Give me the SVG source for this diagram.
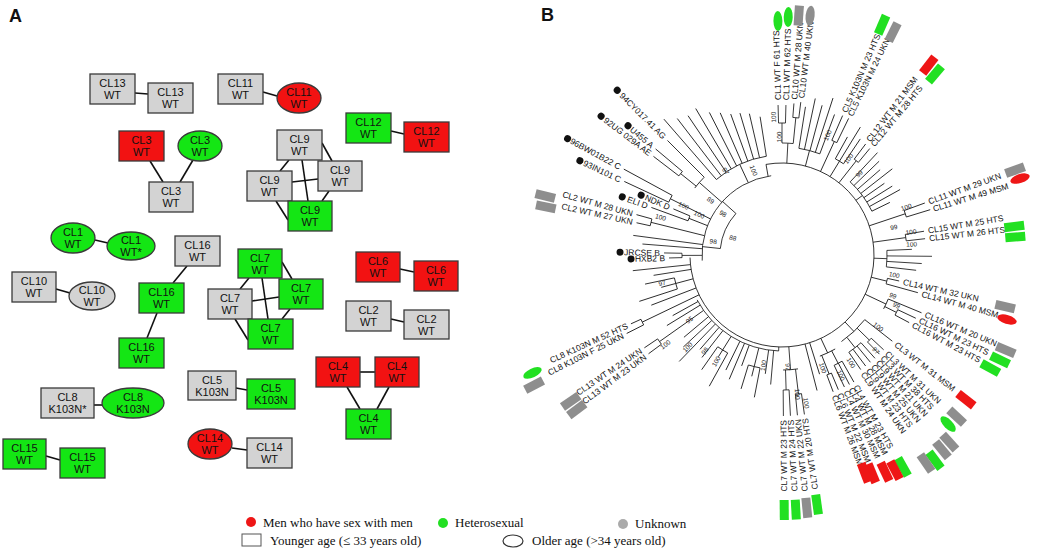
<svg xmlns="http://www.w3.org/2000/svg" width="1050" height="550" viewBox="0 0 1050 550">
<style>
.nd{stroke:#3a3a3a;stroke-width:1.3}
.gy{fill:#d3d3d3}.gn{fill:#14e614}.rd{fill:#f21212}
.nt{font-family:"Liberation Sans",Arial,sans-serif;font-size:11px;text-anchor:middle;fill:#111}
.e{stroke:#111;stroke-width:1.6;fill:none}
.t{stroke:#111;stroke-width:0.8;fill:none}
.tl{font-family:"Liberation Sans",Arial,sans-serif;font-size:8.5px;fill:#111}
.bs{font-family:"Liberation Sans",Arial,sans-serif;font-size:6.5px;fill:#222;text-anchor:middle}
.mg{fill:#8e8e8e}.mgn{fill:#22e022}.mr{fill:#ee1616}
.lg{font-family:"Liberation Serif","Times New Roman",serif;font-size:13px;fill:#111}
.pl{font-family:"Liberation Sans",Arial,sans-serif;font-size:18px;font-weight:bold;fill:#111}
</style>
<rect width="1050" height="550" fill="#fff"/>
<text class="pl" x="9" y="22">A</text>
<text class="pl" x="541" y="21">B</text>

<g id="connectors-A">
<line class="e" x1="135" y1="93" x2="148" y2="94"/>
<line class="e" x1="263" y1="92" x2="277" y2="96"/>
<line class="e" x1="150" y1="161" x2="163" y2="182"/>
<line class="e" x1="193" y1="160" x2="180" y2="182"/>
<line class="e" x1="391" y1="131" x2="404" y2="134"/>
<line class="e" x1="322" y1="143" x2="332" y2="161"/>
<line class="e" x1="289" y1="160" x2="280" y2="171"/>
<line class="e" x1="302" y1="160" x2="308" y2="201"/>
<line class="e" x1="292" y1="182" x2="318" y2="179"/>
<line class="e" x1="276" y1="201" x2="288" y2="220"/>
<line class="e" x1="329" y1="191" x2="322" y2="201"/>
<line class="e" x1="95" y1="240" x2="108" y2="243"/>
<line class="e" x1="187" y1="266" x2="173" y2="283"/>
<line class="e" x1="157" y1="313" x2="147" y2="338"/>
<line class="e" x1="56" y1="289" x2="70" y2="293"/>
<line class="e" x1="249" y1="278" x2="240" y2="289"/>
<line class="e" x1="282" y1="262" x2="292" y2="279"/>
<line class="e" x1="262" y1="278" x2="268" y2="319"/>
<line class="e" x1="252" y1="301" x2="279" y2="297"/>
<line class="e" x1="235" y1="319" x2="248" y2="340"/>
<line class="e" x1="290" y1="309" x2="282" y2="319"/>
<line class="e" x1="400" y1="269" x2="414" y2="272"/>
<line class="e" x1="391" y1="319" x2="404" y2="322"/>
<line class="e" x1="360" y1="372" x2="375" y2="372"/>
<line class="e" x1="347" y1="387" x2="360" y2="409"/>
<line class="e" x1="389" y1="387" x2="377" y2="409"/>
<line class="e" x1="236" y1="388" x2="247" y2="390"/>
<line class="e" x1="94" y1="405" x2="102" y2="405"/>
<line class="e" x1="46" y1="456" x2="60" y2="460"/>
<line class="e" x1="232" y1="448" x2="247" y2="450"/>
</g>

<g id="n13a"><rect class="nd gy" x="90" y="74" width="45" height="30"/><text class="nt" x="112.5" y="87"><tspan x="112.5">CL13</tspan><tspan x="112.5" dy="12">WT</tspan></text></g>
<g id="n13b"><rect class="nd gy" x="148" y="83" width="45" height="30"/><text class="nt" x="170.5" y="96"><tspan x="170.5">CL13</tspan><tspan x="170.5" dy="12">WT</tspan></text></g>
<g id="n11a"><rect class="nd gy" x="218" y="74" width="45" height="30"/><text class="nt" x="240.5" y="87"><tspan x="240.5">CL11</tspan><tspan x="240.5" dy="12">WT</tspan></text></g>
<g id="n11b"><ellipse class="nd rd" cx="299" cy="98" rx="22" ry="15"/><text class="nt" x="299" y="96"><tspan x="299">CL11</tspan><tspan x="299" dy="12">WT</tspan></text></g>
<g id="n3a"><rect class="nd rd" x="119" y="131" width="45" height="30"/><text class="nt" x="141.5" y="144"><tspan x="141.5">CL3</tspan><tspan x="141.5" dy="12">WT</tspan></text></g>
<g id="n3b"><ellipse class="nd gn" cx="200" cy="146" rx="22" ry="15"/><text class="nt" x="200" y="144"><tspan x="200">CL3</tspan><tspan x="200" dy="12">WT</tspan></text></g>
<g id="n3c"><rect class="nd gy" x="149" y="182" width="44" height="30"/><text class="nt" x="171" y="195"><tspan x="171">CL3</tspan><tspan x="171" dy="12">WT</tspan></text></g>
<g id="n12a"><rect class="nd gn" x="346" y="113" width="45" height="30"/><text class="nt" x="368.5" y="126"><tspan x="368.5">CL12</tspan><tspan x="368.5" dy="12">WT</tspan></text></g>
<g id="n12b"><rect class="nd rd" x="404" y="122" width="45" height="30"/><text class="nt" x="426.5" y="135"><tspan x="426.5">CL12</tspan><tspan x="426.5" dy="12">WT</tspan></text></g>
<g id="n9a"><rect class="nd gy" x="277" y="130" width="45" height="30"/><text class="nt" x="299.5" y="143"><tspan x="299.5">CL9</tspan><tspan x="299.5" dy="12">WT</tspan></text></g>
<g id="n9b"><rect class="nd gy" x="318" y="161" width="44" height="30"/><text class="nt" x="340" y="174"><tspan x="340">CL9</tspan><tspan x="340" dy="12">WT</tspan></text></g>
<g id="n9c"><rect class="nd gy" x="247" y="171" width="45" height="30"/><text class="nt" x="269.5" y="184"><tspan x="269.5">CL9</tspan><tspan x="269.5" dy="12">WT</tspan></text></g>
<g id="n9d"><rect class="nd gn" x="288" y="201" width="44" height="30"/><text class="nt" x="310" y="214"><tspan x="310">CL9</tspan><tspan x="310" dy="12">WT</tspan></text></g>
<g id="n1a"><ellipse class="nd gn" cx="73" cy="238" rx="22" ry="15"/><text class="nt" x="73" y="236"><tspan x="73">CL1</tspan><tspan x="73" dy="12">WT</tspan></text></g>
<g id="n1b"><ellipse class="nd gn" cx="131" cy="246" rx="24" ry="14"/><text class="nt" x="131" y="244"><tspan x="131">CL1</tspan><tspan x="131" dy="12">WT*</tspan></text></g>
<g id="n16a"><rect class="nd gy" x="175" y="236" width="45" height="30"/><text class="nt" x="197.5" y="249"><tspan x="197.5">CL16</tspan><tspan x="197.5" dy="12">WT</tspan></text></g>
<g id="n16b"><rect class="nd gn" x="139" y="283" width="45" height="30"/><text class="nt" x="161.5" y="296"><tspan x="161.5">CL16</tspan><tspan x="161.5" dy="12">WT</tspan></text></g>
<g id="n16c"><rect class="nd gn" x="119" y="338" width="45" height="30"/><text class="nt" x="141.5" y="351"><tspan x="141.5">CL16</tspan><tspan x="141.5" dy="12">WT</tspan></text></g>
<g id="n10a"><rect class="nd gy" x="12" y="272" width="44" height="30"/><text class="nt" x="34" y="285"><tspan x="34">CL10</tspan><tspan x="34" dy="12">WT</tspan></text></g>
<g id="n10b"><ellipse class="nd gy" cx="92" cy="296" rx="23" ry="14"/><text class="nt" x="92" y="294"><tspan x="92">CL10</tspan><tspan x="92" dy="12">WT</tspan></text></g>
<g id="n7a"><rect class="nd gn" x="238" y="249" width="44" height="29"/><text class="nt" x="260" y="262"><tspan x="260">CL7</tspan><tspan x="260" dy="12">WT</tspan></text></g>
<g id="n7b"><rect class="nd gn" x="279" y="279" width="44" height="30"/><text class="nt" x="301" y="292"><tspan x="301">CL7</tspan><tspan x="301" dy="12">WT</tspan></text></g>
<g id="n7c"><rect class="nd gy" x="208" y="289" width="44" height="30"/><text class="nt" x="230" y="302"><tspan x="230">CL7</tspan><tspan x="230" dy="12">WT</tspan></text></g>
<g id="n7d"><rect class="nd gn" x="248" y="319" width="45" height="30"/><text class="nt" x="270.5" y="332"><tspan x="270.5">CL7</tspan><tspan x="270.5" dy="12">WT</tspan></text></g>
<g id="n6a"><rect class="nd rd" x="356" y="252" width="44" height="30"/><text class="nt" x="378" y="265"><tspan x="378">CL6</tspan><tspan x="378" dy="12">WT</tspan></text></g>
<g id="n6b"><rect class="nd rd" x="414" y="261" width="44" height="30"/><text class="nt" x="436" y="274"><tspan x="436">CL6</tspan><tspan x="436" dy="12">WT</tspan></text></g>
<g id="n2a"><rect class="nd gy" x="346" y="301" width="45" height="30"/><text class="nt" x="368.5" y="314"><tspan x="368.5">CL2</tspan><tspan x="368.5" dy="12">WT</tspan></text></g>
<g id="n2b"><rect class="nd gy" x="404" y="310" width="45" height="29"/><text class="nt" x="426.5" y="323"><tspan x="426.5">CL2</tspan><tspan x="426.5" dy="12">WT</tspan></text></g>
<g id="n4a"><rect class="nd rd" x="316" y="357" width="44" height="30"/><text class="nt" x="338" y="370"><tspan x="338">CL4</tspan><tspan x="338" dy="12">WT</tspan></text></g>
<g id="n4b"><rect class="nd rd" x="375" y="357" width="44" height="30"/><text class="nt" x="397" y="370"><tspan x="397">CL4</tspan><tspan x="397" dy="12">WT</tspan></text></g>
<g id="n4c"><rect class="nd gn" x="346" y="409" width="45" height="30"/><text class="nt" x="368.5" y="422"><tspan x="368.5">CL4</tspan><tspan x="368.5" dy="12">WT</tspan></text></g>
<g id="n5a"><rect class="nd gy" x="188" y="371" width="48" height="29"/><text class="nt" x="212" y="384"><tspan x="212">CL5</tspan><tspan x="212" dy="12">K103N</tspan></text></g>
<g id="n5b"><rect class="nd gn" x="247" y="379" width="48" height="30"/><text class="nt" x="271" y="392"><tspan x="271">CL5</tspan><tspan x="271" dy="12">K103N</tspan></text></g>
<g id="n8a"><rect class="nd gy" x="41" y="388" width="53" height="30"/><text class="nt" x="67.5" y="401"><tspan x="67.5">CL8</tspan><tspan x="67.5" dy="12">K103N*</tspan></text></g>
<g id="n8b"><ellipse class="nd gn" cx="133" cy="403" rx="31" ry="15"/><text class="nt" x="133" y="401"><tspan x="133">CL8</tspan><tspan x="133" dy="12">K103N</tspan></text></g>
<g id="n15a"><rect class="nd gn" x="3" y="439" width="43" height="30"/><text class="nt" x="24.5" y="452"><tspan x="24.5">CL15</tspan><tspan x="24.5" dy="12">WT</tspan></text></g>
<g id="n15b"><rect class="nd gn" x="60" y="448" width="45" height="30"/><text class="nt" x="82.5" y="461"><tspan x="82.5">CL15</tspan><tspan x="82.5" dy="12">WT</tspan></text></g>
<g id="n14a"><ellipse class="nd rd" cx="210" cy="444" rx="22" ry="15"/><text class="nt" x="210" y="442"><tspan x="210">CL14</tspan><tspan x="210" dy="12">WT</tspan></text></g>
<g id="n14b"><rect class="nd gy" x="247" y="438" width="45" height="30"/><text class="nt" x="269.5" y="451"><tspan x="269.5">CL14</tspan><tspan x="269.5" dy="12">WT</tspan></text></g>

<g id="tree-branches" class="t" transform="translate(782,255)">
<circle r="92" transform="rotate(-100)" stroke-dasharray="446.4 2000"/>
<circle r="80" transform="rotate(176)" stroke-dasharray="120.1 2000"/>
<circle r="96" transform="rotate(92)" stroke-dasharray="100.5 2000"/>
<circle r="62" transform="rotate(186)" stroke-dasharray="38.96 2000"/>
<line x1="80" x2="92" transform="rotate(260)"/>
<line x1="62" x2="80" transform="rotate(186)"/>
<line x1="62" x2="80" transform="rotate(222)"/>
<line x1="92" x2="96" transform="rotate(92)"/>
<line x1="92" x2="112" transform="rotate(-87)"/>
<circle r="112" transform="rotate(-90)" stroke-dasharray="11.24 2000"/>
<line x1="112" x2="132" transform="rotate(-90)"/>
<circle r="132" transform="rotate(-91.5)" stroke-dasharray="6.91 2000"/>
<line x1="132" x2="150" transform="rotate(-91.5)"/>
<line x1="132" x2="150" transform="rotate(-88.5)"/>
<line x1="112" x2="138" transform="rotate(-84.25)"/>
<circle r="138" transform="rotate(-85.5)" stroke-dasharray="6.02 2000"/>
<line x1="138" x2="152" transform="rotate(-85.5)"/>
<line x1="138" x2="154" transform="rotate(-83)"/>
<line x1="92" x2="108" transform="rotate(-75.25)"/>
<circle r="108" transform="rotate(-81)" stroke-dasharray="21.68 2000"/>
<line x1="108" x2="150" transform="rotate(-81)"/>
<line x1="108" x2="160" transform="rotate(-78)"/>
<line x1="108" x2="155" transform="rotate(-75)"/>
<line x1="108" x2="165" transform="rotate(-72)"/>
<line x1="108" x2="150" transform="rotate(-69.5)"/>
<line x1="92" x2="125" transform="rotate(-65.25)"/>
<circle r="125" transform="rotate(-66.5)" stroke-dasharray="5.45 2000"/>
<line x1="125" x2="152" transform="rotate(-66.5)"/>
<line x1="125" x2="152" transform="rotate(-64)"/>
<line x1="92" x2="110" transform="rotate(-58.5)"/>
<circle r="110" transform="rotate(-61)" stroke-dasharray="9.6 2000"/>
<line x1="110" x2="135" transform="rotate(-61)"/>
<line x1="110" x2="150" transform="rotate(-58.5)"/>
<line x1="110" x2="140" transform="rotate(-56)"/>
<line x1="92" x2="120" transform="rotate(-51.75)"/>
<circle r="120" transform="rotate(-53)" stroke-dasharray="5.24 2000"/>
<line x1="120" x2="139" transform="rotate(-53)"/>
<line x1="120" x2="138" transform="rotate(-50.5)"/>
<line x1="92" x2="100" transform="rotate(-36.5)"/>
<circle r="100" transform="rotate(-47)" stroke-dasharray="36.65 2000"/>
<line x1="100" x2="140" transform="rotate(-47)"/>
<line x1="100" x2="135" transform="rotate(-44)"/>
<line x1="100" x2="130" transform="rotate(-41)"/>
<line x1="100" x2="140" transform="rotate(-38)"/>
<line x1="100" x2="125" transform="rotate(-35)"/>
<line x1="100" x2="130" transform="rotate(-32)"/>
<line x1="100" x2="135" transform="rotate(-29)"/>
<line x1="100" x2="120" transform="rotate(-26)"/>
<line x1="92" x2="130" transform="rotate(-18.5)"/>
<circle r="130" transform="rotate(-20)" stroke-dasharray="6.81 2000"/>
<line x1="130" x2="152" transform="rotate(-20)"/>
<line x1="130" x2="155" transform="rotate(-17)"/>
<line x1="92" x2="125" transform="rotate(-8)"/>
<circle r="125" transform="rotate(-9.5)" stroke-dasharray="6.55 2000"/>
<line x1="125" x2="144" transform="rotate(-9.5)"/>
<line x1="125" x2="144" transform="rotate(-6.5)"/>
<line x1="92" x2="105" transform="rotate(2)"/>
<circle r="105" transform="rotate(-2.5)" stroke-dasharray="16.49 2000"/>
<line x1="105" x2="130" transform="rotate(-2.5)"/>
<line x1="105" x2="150" transform="rotate(0.5)"/>
<line x1="105" x2="140" transform="rotate(3.5)"/>
<line x1="105" x2="135" transform="rotate(6.5)"/>
<line x1="92" x2="108" transform="rotate(14)"/>
<circle r="108" transform="rotate(12.5)" stroke-dasharray="5.65 2000"/>
<line x1="108" x2="120" transform="rotate(12.5)"/>
<line x1="108" x2="141" transform="rotate(15.5)"/>
<line x1="92" x2="115" transform="rotate(25.25)"/>
<circle r="115" transform="rotate(22.5)" stroke-dasharray="11.04 2000"/>
<line x1="115" x2="151" transform="rotate(22.5)"/>
<line x1="115" x2="128" transform="rotate(26.65)"/>
<circle r="128" transform="rotate(25.3)" stroke-dasharray="6.03 2000"/>
<line x1="128" x2="148" transform="rotate(25.3)"/>
<line x1="128" x2="144" transform="rotate(28)"/>
<line x1="92" x2="105" transform="rotate(46.75)"/>
<circle r="105" transform="rotate(38)" stroke-dasharray="32.07 2000"/>
<line x1="105" x2="140" transform="rotate(38)"/>
<line x1="105" x2="122" transform="rotate(44.25)"/>
<circle r="122" transform="rotate(43)" stroke-dasharray="5.32 2000"/>
<line x1="122" x2="139" transform="rotate(43)"/>
<line x1="122" x2="139" transform="rotate(45.5)"/>
<line x1="105" x2="118" transform="rotate(51.75)"/>
<circle r="118" transform="rotate(48)" stroke-dasharray="15.45 2000"/>
<line x1="118" x2="139" transform="rotate(48)"/>
<line x1="118" x2="139" transform="rotate(50.5)"/>
<line x1="118" x2="139" transform="rotate(53)"/>
<line x1="118" x2="139" transform="rotate(55.5)"/>
<line x1="92" x2="108" transform="rotate(65)"/>
<circle r="108" transform="rotate(60.5)" stroke-dasharray="16.96 2000"/>
<line x1="108" x2="122" transform="rotate(62.6)"/>
<circle r="122" transform="rotate(60.5)" stroke-dasharray="8.94 2000"/>
<line x1="122" x2="146" transform="rotate(60.5)"/>
<line x1="122" x2="146" transform="rotate(62.5)"/>
<line x1="122" x2="146" transform="rotate(64.7)"/>
<line x1="108" x2="128" transform="rotate(68.4)"/>
<circle r="128" transform="rotate(67.3)" stroke-dasharray="4.91 2000"/>
<line x1="128" x2="146" transform="rotate(67.3)"/>
<line x1="128" x2="146" transform="rotate(69.5)"/>
<line x1="92" x2="125" transform="rotate(72.5)"/>
<line x1="92" x2="140" transform="rotate(75.5)"/>
<line x1="92" x2="115" transform="rotate(85.75)"/>
<circle r="115" transform="rotate(82)" stroke-dasharray="15.05 2000"/>
<line x1="115" x2="140" transform="rotate(83.25)"/>
<circle r="140" transform="rotate(82)" stroke-dasharray="6.11 2000"/>
<line x1="140" x2="161" transform="rotate(82)"/>
<line x1="140" x2="161" transform="rotate(84.5)"/>
<line x1="115" x2="135" transform="rotate(88.25)"/>
<circle r="135" transform="rotate(87)" stroke-dasharray="5.89 2000"/>
<line x1="135" x2="161" transform="rotate(87)"/>
<line x1="135" x2="161" transform="rotate(89.5)"/>
<line x1="96" x2="130" transform="rotate(95)"/>
<line x1="96" x2="120" transform="rotate(98)"/>
<line x1="96" x2="115" transform="rotate(104)"/>
<circle r="115" transform="rotate(101)" stroke-dasharray="12.04 2000"/>
<line x1="115" x2="145" transform="rotate(101)"/>
<line x1="115" x2="125" transform="rotate(104)"/>
<line x1="115" x2="140" transform="rotate(107)"/>
<line x1="96" x2="118" transform="rotate(110)"/>
<line x1="96" x2="135" transform="rotate(113)"/>
<line x1="96" x2="128" transform="rotate(116)"/>
<line x1="96" x2="112" transform="rotate(122)"/>
<circle r="112" transform="rotate(119)" stroke-dasharray="11.73 2000"/>
<line x1="112" x2="150" transform="rotate(119)"/>
<line x1="112" x2="120" transform="rotate(122)"/>
<line x1="112" x2="140" transform="rotate(125)"/>
<line x1="96" x2="130" transform="rotate(128)"/>
<line x1="96" x2="125" transform="rotate(131)"/>
<line x1="96" x2="148" transform="rotate(134)"/>
<line x1="96" x2="135" transform="rotate(137)"/>
<line x1="96" x2="128" transform="rotate(140)"/>
<line x1="96" x2="150" transform="rotate(144.75)"/>
<circle r="150" transform="rotate(143.5)" stroke-dasharray="6.55 2000"/>
<line x1="150" x2="166" transform="rotate(143.5)"/>
<line x1="150" x2="166" transform="rotate(146)"/>
<line x1="96" x2="135" transform="rotate(148.5)"/>
<line x1="96" x2="125" transform="rotate(151)"/>
<line x1="92" x2="155" transform="rotate(154.35)"/>
<circle r="155" transform="rotate(153.2)" stroke-dasharray="6.22 2000"/>
<line x1="155" x2="174" transform="rotate(153.2)"/>
<line x1="155" x2="166" transform="rotate(155.5)"/>
<line x1="92" x2="140" transform="rotate(159)"/>
<line x1="92" x2="110" transform="rotate(165)"/>
<circle r="110" transform="rotate(162)" stroke-dasharray="11.52 2000"/>
<line x1="110" x2="150" transform="rotate(162)"/>
<line x1="110" x2="125" transform="rotate(165)"/>
<line x1="110" x2="140" transform="rotate(168)"/>
<line x1="92" x2="130" transform="rotate(171)"/>
<line x1="92" x2="150" transform="rotate(174)"/>
<line x1="80" x2="100" transform="rotate(179.75)"/>
<circle r="100" transform="rotate(178.5)" stroke-dasharray="4.36 2000"/>
<line x1="100" x2="113" transform="rotate(178.5)"/>
<line x1="100" x2="118" transform="rotate(181)"/>
<line x1="80" x2="140" transform="rotate(184.5)"/>
<line x1="80" x2="150" transform="rotate(187.5)"/>
<line x1="80" x2="135" transform="rotate(194)"/>
<circle r="135" transform="rotate(192.5)" stroke-dasharray="7.07 2000"/>
<line x1="135" x2="149" transform="rotate(192.5)"/>
<line x1="135" x2="151" transform="rotate(195.5)"/>
<line x1="80" x2="100" transform="rotate(201.5)"/>
<circle r="100" transform="rotate(200)" stroke-dasharray="5.24 2000"/>
<line x1="100" x2="139" transform="rotate(200)"/>
<line x1="100" x2="118" transform="rotate(203)"/>
<line x1="80" x2="125" transform="rotate(206.75)"/>
<circle r="125" transform="rotate(205)" stroke-dasharray="7.64 2000"/>
<line x1="125" x2="174" transform="rotate(205)"/>
<line x1="125" x2="180" transform="rotate(208.5)"/>
<line x1="80" x2="110" transform="rotate(221.25)"/>
<circle r="110" transform="rotate(217.5)" stroke-dasharray="14.4 2000"/>
<line x1="110" x2="130" transform="rotate(218.75)"/>
<circle r="130" transform="rotate(217.5)" stroke-dasharray="5.67 2000"/>
<line x1="130" x2="162" transform="rotate(217.5)"/>
<line x1="130" x2="165" transform="rotate(220)"/>
<line x1="110" x2="162" transform="rotate(225)"/>
<line x1="80" x2="100" transform="rotate(245)"/>
<circle r="100" transform="rotate(229)" stroke-dasharray="55.85 2000"/>
<line x1="100" x2="180" transform="rotate(229)"/>
<line x1="100" x2="172" transform="rotate(232.5)"/>
<line x1="100" x2="168" transform="rotate(236)"/>
<line x1="100" x2="170" transform="rotate(239.5)"/>
<line x1="100" x2="160" transform="rotate(243)"/>
<line x1="100" x2="155" transform="rotate(246.5)"/>
<line x1="100" x2="150" transform="rotate(250)"/>
<line x1="100" x2="148" transform="rotate(253.5)"/>
<line x1="100" x2="145" transform="rotate(257)"/>
<line x1="100" x2="140" transform="rotate(261)"/>
</g>

<g id="tree-labels" class="tl" transform="translate(782,255)">
<text dy="3" transform="rotate(-91.5) translate(155,0)">CL1 WT F 61 HTS</text>
<text dy="3" transform="rotate(-88.5) translate(155,0)">CL1 WT M 62 HTS</text>
<text dy="3" transform="rotate(-85.5) translate(156,0)">CL10 WT M 28 UKN</text>
<text dy="3" transform="rotate(-83) translate(158,0)">CL10 WT M 40 UKN</text>
<text dy="3" transform="rotate(-66.5) translate(156,0)">CL5 K103N M 23 HTS</text>
<text dy="3" transform="rotate(-64) translate(155,0)">CL5 K103N M 24 UKN</text>
<text dy="3" transform="rotate(-53) translate(143,0)">CL12 WT M 21 MSM</text>
<text dy="3" transform="rotate(-50.5) translate(142,0)">CL12 WT M 28 HTS</text>
<text dy="3" transform="rotate(-20) translate(156,0)">CL11 WT M 29 UKN</text>
<text dy="3" transform="rotate(-17) translate(158,0)">CL11 WT M 49 MSM</text>
<text dy="3" transform="rotate(-9.5) translate(148,0)">CL15 WT M 25 HTS</text>
<text dy="3" transform="rotate(-6.5) translate(148,0)">CL15 WT M 26 HTS</text>
<text dy="3" transform="rotate(12.5) translate(124,0)">CL14 WT M 32 UKN</text>
<text dy="3" transform="rotate(15.5) translate(145,0)">CL14 WT M 40 MSM</text>
<text dy="3" transform="rotate(22.5) translate(155,0)">CL16 WT M 20 UKN</text>
<text dy="3" transform="rotate(25.3) translate(152,0)">CL16 WT M 23 HTS</text>
<text dy="3" transform="rotate(28) translate(148,0)">CL16 WT M 23 HTS</text>
<text dy="3" transform="rotate(38) translate(144,0)">CL3 WT M 31 MSM</text>
<text dy="3" transform="rotate(43) translate(143,0)">CL3 WT M 31 UKN</text>
<text dy="3" transform="rotate(45.5) translate(143,0)">CL3 WT M 38 HTS</text>
<text dy="3" transform="rotate(48) translate(143,0)">CL9 WT M 21 UKN</text>
<text dy="3" transform="rotate(50.5) translate(143,0)">CL9 WT M 25 UKN</text>
<text dy="3" transform="rotate(53) translate(143,0)">CL9 WT M 23 HTS</text>
<text dy="3" transform="rotate(55.5) translate(143,0)">CL9 WT M 24 UKN</text>
<text dy="3" transform="rotate(60.5) translate(150,0)">CL4 WT M 23 HTS</text>
<text dy="3" transform="rotate(62.5) translate(150,0)">CL4 WT M 28 MSM</text>
<text dy="3" transform="rotate(64.7) translate(150,0)">CL4 WT M 30 MSM</text>
<text dy="3" transform="rotate(67.3) translate(150,0)">CL6 WT M 22 MSM</text>
<text dy="3" transform="rotate(69.5) translate(150,0)">CL6 WT M 26 MSM</text>
<g text-anchor="end">
<text dy="3" transform="rotate(82) translate(165,0) rotate(180)">CL7 WT M 20 HTS</text>
<text dy="3" transform="rotate(84.5) translate(165,0) rotate(180)">CL7 WT M 22 UKN</text>
<text dy="3" transform="rotate(87) translate(165,0) rotate(180)">CL7 WT M 24 HTS</text>
<text dy="3" transform="rotate(89.5) translate(165,0) rotate(180)">CL7 WT M 23 HTS</text>
<text dy="3" transform="rotate(143.5) translate(170,0) rotate(180)">CL13 WT M 23 UKN</text>
<text dy="3" transform="rotate(146) translate(170,0) rotate(180)">CL13 WT M 24 UKN</text>
<text dy="3" transform="rotate(153.2) translate(178,0) rotate(180)">CL8 K103N F 25 UKN</text>
<text dy="3" transform="rotate(155.5) translate(170,0) rotate(180)">CL8 K103N M 52 HTS</text>
<text dy="3" transform="rotate(178.5) translate(117,0) rotate(180)">HXB2 B</text>
<text dy="3" transform="rotate(181) translate(122,0) rotate(180)">JRCSE B</text>
<text dy="3" transform="rotate(192.5) translate(153,0) rotate(180)">CL2 WT M 27 UKN</text>
<text dy="3" transform="rotate(195.5) translate(155,0) rotate(180)">CL2 WT M 28 UKN</text>
<text dy="3" transform="rotate(200) translate(143,0) rotate(180)">ELI D</text>
<text dy="3" transform="rotate(203) translate(122,0) rotate(180)">NDK D</text>
<text dy="3" transform="rotate(205) translate(178,0) rotate(180)">93IN101 C</text>
<text dy="3" transform="rotate(208.5) translate(184,0) rotate(180)">96BW01B22 C</text>
<text dy="3" transform="rotate(217.5) translate(166,0) rotate(180)">92UG 029A AE</text>
<text dy="3" transform="rotate(220) translate(169,0) rotate(180)">U455 A</text>
<text dy="3" transform="rotate(225) translate(166,0) rotate(180)">94CY017.41 AG</text>
</g>
</g>

<g id="tree-bootstrap" class="bs" transform="translate(782,255)">
<text transform="rotate(-91.5) translate(138,-2.5)">100</text>
<text transform="rotate(-89) translate(118,-2.5)">100</text>
<text transform="rotate(-67) translate(128,-2.5)">100</text>
<text transform="rotate(-53) translate(117,-2.5)">100</text>
<text transform="rotate(-44) translate(112,-2.5)">99</text>
<text transform="rotate(-19) translate(133,-2.5)">100</text>
<text transform="rotate(-11.5) translate(115,-2.5)">99</text>
<text transform="rotate(-8) translate(131,-2.5)">100</text>
<text transform="rotate(-2.6) translate(130,-2.5)">100</text>
<text transform="rotate(12.5) translate(114,-2.5)">100</text>
<text transform="rotate(22.5) translate(118,-2.5)">99</text>
<text transform="rotate(26) translate(125,-2.5)">99</text>
<text transform="rotate(39) translate(120,-2.5)">100</text>
<text transform="rotate(47.6) translate(134,-2.5)">97</text>
<text transform="rotate(59.5) translate(128,-2.5)">100</text>
<text transform="rotate(66) translate(134,-2.5)">100</text>
<text transform="rotate(72.4) translate(120,-2.5)">100</text>
<text transform="rotate(82.5) translate(150,-2.5)">100</text>
<text transform="rotate(85.6) translate(140,-2.5)">100</text>
<text transform="rotate(89.5) translate(112,-2.5)">97</text>
<text transform="rotate(97.6) translate(112,0) rotate(180)" dy="-1.5">100</text>
<text transform="rotate(120) translate(125,0) rotate(180)" dy="-1.5">100</text>
<text transform="rotate(127) translate(123,0) rotate(180)" dy="-1.5">98</text>
<text transform="rotate(134) translate(132,0) rotate(180)" dy="-1.5">100</text>
<text transform="rotate(141) translate(147,0) rotate(180)" dy="-1.5">100</text>
<text transform="rotate(143) translate(113,0) rotate(180)" dy="-1.5">95</text>
<text transform="rotate(165) translate(123,0) rotate(180)" dy="-1.5">97</text>
<text transform="rotate(195.6) translate(127,0) rotate(180)" dy="-1.5">100</text>
<text transform="rotate(204.6) translate(110,0) rotate(180)" dy="-1.5">100</text>
<text transform="rotate(203.6) translate(92,0) rotate(180)" dy="-1.5">100</text>
<text transform="rotate(215) translate(90,0) rotate(180)" dy="-1.5">89</text>
<text transform="rotate(212) translate(72,0) rotate(180)" dy="-1.5">98</text>
<text transform="rotate(188) translate(70,0) rotate(180)" dy="-1.5">98</text>
<text transform="rotate(195) translate(52,0) rotate(180)" dy="-1.5">88</text>
<text transform="rotate(234) translate(101,0) rotate(180)" dy="-1.5">97</text>
<text transform="rotate(249) translate(89,0) rotate(180)" dy="-1.5">100</text>
</g>

<g id="tree-dots" transform="translate(782,255)" fill="#111">
<circle cx="233" r="3.5" transform="rotate(225)"/>
<circle cx="228" r="3.5" transform="rotate(217.5)"/>
<circle cx="201" r="3.5" transform="rotate(220)"/>
<circle cx="244" r="3.5" transform="rotate(208.5)"/>
<circle cx="223" r="3.5" transform="rotate(205)"/>
<circle cx="170" r="3.5" transform="rotate(200)"/>
<circle cx="153" r="3.5" transform="rotate(203)"/>
<circle cx="162" r="3.5" transform="rotate(181)"/>
<circle cx="151" r="3.5" transform="rotate(178.5)"/>
</g>

<g id="tree-markers" transform="translate(782,255)">
<ellipse class="mgn" cx="234" rx="10" ry="4.5" transform="rotate(-91)"/>
<ellipse class="mgn" cx="238" rx="10" ry="4.5" transform="rotate(-88.5)"/>
<rect class="mg" x="230" y="-4.5" width="20" height="9" transform="rotate(-86)"/>
<ellipse class="mg" cx="241" rx="10" ry="4.5" transform="rotate(-83.3)"/>
<rect class="mgn" x="241" y="-4.5" width="20" height="9" transform="rotate(-66.5)"/>
<rect class="mg" x="239" y="-4.5" width="20" height="9" transform="rotate(-63.5)"/>
<rect class="mr" x="230" y="-4.5" width="20" height="9" transform="rotate(-52.3)"/>
<rect class="mgn" x="227" y="-4.5" width="20" height="9" transform="rotate(-49.8)"/>
<rect class="mg" x="238" y="-4.5" width="20" height="9" transform="rotate(-20)"/>
<ellipse class="mr" cx="250" rx="10" ry="4.5" transform="rotate(-17.8)"/>
<rect class="mgn" x="224" y="-4.5" width="20" height="9" transform="rotate(-7)"/>
<rect class="mgn" x="224" y="-4.5" width="20" height="9" transform="rotate(-4.4)"/>
<rect class="mg" x="219" y="-4.5" width="20" height="9" transform="rotate(13)"/>
<ellipse class="mr" cx="234" rx="10" ry="4.5" transform="rotate(16)"/>
<rect class="mg" x="233" y="-4.5" width="20" height="9" transform="rotate(23)"/>
<rect class="mgn" x="232" y="-4.5" width="20" height="9" transform="rotate(25.7)"/>
<rect class="mgn" x="227" y="-4.5" width="20" height="9" transform="rotate(28.5)"/>
<rect class="mr" x="224" y="-4.5" width="20" height="9" transform="rotate(38.2)"/>
<rect class="mg" x="228" y="-4.5" width="20" height="9" transform="rotate(42.8)"/>
<ellipse class="mgn" cx="237" rx="10" ry="4.5" transform="rotate(45.5)"/>
<rect class="mg" x="241" y="-4.5" width="20" height="9" transform="rotate(48.2)"/>
<rect class="mg" x="242" y="-4.5" width="20" height="9" transform="rotate(50.6)"/>
<rect class="mgn" x="246" y="-4.5" width="20" height="9" transform="rotate(53.3)"/>
<rect class="mg" x="243" y="-4.5" width="20" height="9" transform="rotate(55.3)"/>
<rect class="mgn" x="234" y="-4.5" width="20" height="9" transform="rotate(60.3)"/>
<rect class="mr" x="233" y="-4.5" width="20" height="9" transform="rotate(62.3)"/>
<rect class="mr" x="230" y="-4.5" width="20" height="9" transform="rotate(64.6)"/>
<rect class="mr" x="226" y="-4.5" width="20" height="9" transform="rotate(67.6)"/>
<rect class="mr" x="223" y="-4.5" width="20" height="9" transform="rotate(69.2)"/>
<rect class="mgn" x="242" y="-4.5" width="20" height="9" transform="rotate(82)"/>
<rect class="mg" x="244" y="-4.5" width="20" height="9" transform="rotate(84.4)"/>
<rect class="mgn" x="245" y="-4.5" width="20" height="9" transform="rotate(86.9)"/>
<rect class="mgn" x="245" y="-4.5" width="20" height="9" transform="rotate(89.5)"/>
<rect class="mg" x="247" y="-4.5" width="20" height="9" transform="rotate(143)"/>
<rect class="mg" x="247" y="-4.5" width="20" height="9" transform="rotate(145.3)"/>
<rect class="mg" x="270" y="-4.5" width="20" height="9" transform="rotate(152.3)"/>
<ellipse class="mgn" cx="276" rx="10" ry="4.5" transform="rotate(154.7)"/>
<rect class="mg" x="231" y="-4.5" width="20" height="9" transform="rotate(191.5)"/>
<rect class="mg" x="234" y="-4.5" width="20" height="9" transform="rotate(194)"/>
</g>

<g id="legend">
<circle cx="251" cy="522" r="5" fill="#ee1616"/>
<text class="lg" x="263" y="527">Men who have sex with men</text>
<circle cx="443" cy="523" r="5" fill="#22e022"/>
<text class="lg" x="455" y="527">Heterosexual</text>
<circle cx="623" cy="524" r="5" fill="#aaaaaa"/>
<text class="lg" x="635" y="528">Unknown</text>
<rect x="242" y="534" width="19" height="12" fill="#fff" stroke="#555" stroke-width="1"/>
<text class="lg" x="270" y="545">Younger age (≤ 33 years old)</text>
<ellipse cx="513" cy="541" rx="10" ry="6" fill="#fff" stroke="#333" stroke-width="1.2"/>
<text class="lg" x="532" y="545">Older age (&gt;34 years old)</text>
</g>
</svg>
